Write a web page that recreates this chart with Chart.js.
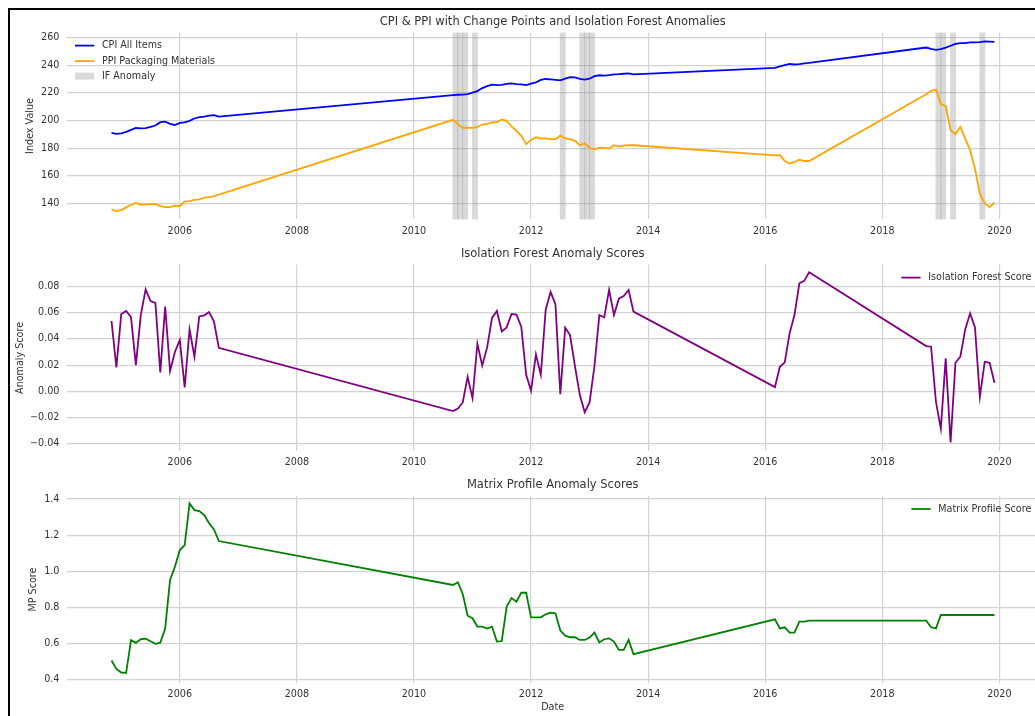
<!DOCTYPE html>
<html>
<head>
<meta charset="utf-8">
<title>CPI & PPI anomalies</title>
<script src="https://cdn.jsdelivr.net/npm/chart.js@4.4.1/dist/chart.umd.min.js"></script>
<style>
  html, body { margin: 0; padding: 0; background: #fff; overflow: hidden; }
  #page { position: relative; width: 1035px; height: 716px; overflow: hidden; background: #fff; }
  #frame { position: absolute; left: 8px; top: 8px; width: 1200px; height: 800px;
           border-left: 2px solid #000; border-top: 2px solid #000; }
  canvas { position: absolute; left: 0; }
</style>
</head>
<body>
<div id="page">
  <div id="frame"></div>
  <canvas id="cpiChart" width="1106" height="240" style="top:0px"></canvas>
  <canvas id="ifChart" width="1106" height="240" style="top:232px"></canvas>
  <canvas id="mpChart" width="1106" height="253" style="top:463px"></canvas>
</div>
<script>
// monthly observations (gaps between the four blocks are joined by straight lines)
const dates = [
  '2004-11', '2004-12',
  '2005-01', '2005-02', '2005-03', '2005-04', '2005-05', '2005-06', '2005-07', '2005-08', '2005-09', '2005-10', '2005-11', '2005-12',
  '2006-01', '2006-02', '2006-03', '2006-04', '2006-05', '2006-06', '2006-07', '2006-08', '2006-09',
  '2010-09', '2010-10', '2010-11', '2010-12',
  '2011-01', '2011-02', '2011-03', '2011-04', '2011-05', '2011-06', '2011-07', '2011-08', '2011-09', '2011-10', '2011-11', '2011-12',
  '2012-01', '2012-02', '2012-03', '2012-04', '2012-05', '2012-06', '2012-07', '2012-08', '2012-09', '2012-10', '2012-11', '2012-12',
  '2013-01', '2013-02', '2013-03', '2013-04', '2013-05', '2013-06', '2013-07', '2013-08', '2013-09', '2013-10',
  '2016-03', '2016-04', '2016-05', '2016-06', '2016-07', '2016-08', '2016-09', '2016-10',
  '2018-10', '2018-11', '2018-12',
  '2019-01', '2019-02', '2019-03', '2019-04', '2019-05', '2019-06', '2019-07', '2019-08', '2019-09', '2019-10', '2019-11', '2019-12'
];

const cpiValues = [
  191.0, 190.3,
  190.7, 191.8, 193.3, 194.6, 194.4, 194.5, 195.4, 196.4, 198.8, 199.2, 197.6, 196.8,
  198.3, 198.7, 199.8, 201.5, 202.5, 202.9, 203.5, 203.9, 202.9,
  218.4, 218.7, 218.8, 219.2,
  220.2, 221.3, 223.5, 224.9, 226.0, 225.7, 225.9, 226.5, 226.9, 226.4, 226.2, 225.7,
  226.7, 227.7, 229.4, 230.1, 229.8, 229.5, 229.1, 230.4, 231.4, 231.3, 230.2, 229.6,
  230.3, 232.2, 232.8, 232.5, 232.9, 233.5, 233.6, 233.9, 234.1, 233.5,
  238.1, 239.3, 240.2, 241.0, 240.6, 240.8, 241.4, 241.7,
  252.9, 252.0, 251.2,
  251.7, 252.8, 254.2, 255.5, 256.1, 256.1, 256.6, 256.6, 256.8, 257.3, 257.2, 257.0
];

const ppiValues = [
  135.6, 134.4,
  135.1, 137.1, 138.8, 140.5, 139.0, 139.3, 139.5, 139.5, 138.0, 137.3, 137.3, 138.3,
  138.0, 141.4, 141.7, 142.6, 142.9, 144.1, 144.6, 145.3, 146.3,
  200.5, 197.3, 194.7, 194.9,
  194.7, 195.4, 197.1, 197.6, 198.6, 198.8, 200.7, 199.8, 195.7, 192.5, 188.9, 182.9,
  186.0, 187.9, 187.0, 187.0, 186.5, 186.5, 189.1, 187.0, 186.5, 185.3, 182.1, 183.6,
  180.2, 179.2, 180.4, 180.2, 179.7, 182.1, 181.2, 181.9, 182.1, 182.1,
  174.8, 175.0, 170.7, 168.8, 170.0, 171.7, 170.7, 170.7,
  219.1, 221.5, 222.5,
  211.9, 210.4, 193.0, 190.1, 195.4, 186.9, 178.5, 165.1, 147.0, 140.2, 137.3, 140.7
];

const ifScores = [
  0.0536, 0.0182,
  0.0589, 0.0612, 0.0564, 0.0200, 0.0581, 0.0777, 0.0688, 0.0673, 0.0144, 0.0645, 0.0155, 0.0300,
  0.0391, 0.0030, 0.0472, 0.0264, 0.0571, 0.0579, 0.0604, 0.0531, 0.0332,
  -0.0150, -0.0130, -0.0084, 0.0111,
  -0.0051, 0.0363, 0.0198, 0.0335, 0.0559, 0.0612, 0.0457, 0.0487, 0.0589, 0.0584, 0.0493, 0.0127,
  0.0005, 0.0282, 0.0127, 0.0620, 0.0757, 0.0663, -0.0021, 0.0485, 0.0429, 0.0193, -0.0028, -0.0158,
  -0.0084, 0.0193, 0.0581, 0.0564, 0.0772, 0.0581, 0.0706, 0.0726, 0.0772, 0.0607,
  0.0033, 0.0188, 0.0221, 0.0442, 0.0581, 0.0823, 0.0841, 0.0907,
  0.0345, 0.0340, -0.0079,
  -0.0283, 0.0251, -0.0389, 0.0218, 0.0264, 0.0472, 0.0594, 0.0487, -0.0041, 0.0226, 0.0218, 0.0066
];

const mpScores = [
  0.507, 0.461,
  0.441, 0.439, 0.620, 0.605, 0.625, 0.628, 0.614, 0.600, 0.606, 0.684, 0.953, 1.026,
  1.118, 1.146, 1.376, 1.339, 1.334, 1.312, 1.266, 1.232, 1.168,
  0.925, 0.940, 0.875, 0.755,
  0.741, 0.695, 0.695, 0.684, 0.695, 0.612, 0.615, 0.805, 0.853, 0.833, 0.882, 0.882,
  0.746, 0.746, 0.746, 0.763, 0.772, 0.768, 0.673, 0.645, 0.636, 0.636, 0.621, 0.621,
  0.634, 0.662, 0.607, 0.625, 0.630, 0.612, 0.566, 0.566, 0.621, 0.542,
  0.735, 0.685, 0.691, 0.662, 0.662, 0.722, 0.722, 0.728,
  0.728, 0.691, 0.685,
  0.759, 0.759, 0.759, 0.759, 0.759, 0.759, 0.759, 0.759, 0.759, 0.759, 0.759, 0.759
];

// months flagged by the isolation forest (grey bands on the top panel)
const ifAnomalyDates = ['2010-09', '2010-10', '2010-11', '2011-01', '2012-07', '2012-11', '2012-12',
                        '2013-01', '2018-12', '2019-01', '2019-03', '2019-09'];

const xTicks = [2006, 2008, 2010, 2012, 2014, 2016, 2018, 2020];
const cpiTicks = [140, 160, 180, 200, 220, 240, 260];
const ifTicks = [-0.04, -0.02, 0, 0.02, 0.04, 0.06, 0.08];
const mpTicks = [0.4, 0.6, 0.8, 1.0, 1.2, 1.4];

const TEXT = '#333333';
const GRID = '#d3d3d3';
const FONT = '"DejaVu Sans", sans-serif';

Chart.defaults.font.family = FONT;
Chart.defaults.color = TEXT;

function toYear(d) {
  const [y, m] = d.split('-').map(Number);
  return y + (m - 1) / 12;
}
const xYears = dates.map(toYear);
const points = vals => vals.map((v, i) => ({ x: xYears[i], y: v }));

// grey spans behind the lines
const anomalyBands = {
  id: 'anomalyBands',
  beforeDatasetsDraw(chart, args, opts) {
    const { ctx, chartArea: a, scales: { x } } = chart;
    ctx.save();
    ctx.fillStyle = opts.color;
    opts.dates.forEach(d => {
      const x0 = x.getPixelForValue(toYear(d) - 0.008);
      const x1 = x.getPixelForValue(toYear(d) + 0.092);
      ctx.fillRect(x0, a.top, x1 - x0, a.bottom - a.top);
    });
    ctx.restore();
  }
};

// matplotlib-like legend without a frame, inside the plot corner
const cornerLegend = {
  id: 'cornerLegend',
  afterDatasetsDraw(chart, args, opts) {
    const { ctx, chartArea: a } = chart;
    const items = chart.data.datasets
      .map(ds => ({ label: ds.label, color: ds.borderColor, kind: 'line' }))
      .concat(opts.extra || []);
    ctx.save();
    ctx.font = '9.6px ' + FONT;
    ctx.textBaseline = 'middle';
    items.forEach((it, i) => {
      const y = a.top + 13 + i * 15.5;
      const textX = opts.corner === 'right'
        ? a.right - 6.7 - ctx.measureText(it.label).width
        : a.left + 34.5;
      const hx = textX - 7.7 - 19.2;
      if (it.kind === 'box') {
        ctx.fillStyle = it.color;
        ctx.fillRect(hx, y - 4, 19.2, 7);
      } else {
        ctx.strokeStyle = it.color;
        ctx.lineWidth = 1.8;
        ctx.beginPath();
        ctx.moveTo(hx, y);
        ctx.lineTo(hx + 19.2, y);
        ctx.stroke();
      }
      ctx.fillStyle = TEXT;
      ctx.fillText(it.label, textX, y);
    });
    ctx.restore();
  }
};

function line(label, color, vals) {
  return {
    label: label,
    data: points(vals),
    borderColor: color,
    backgroundColor: color,
    borderWidth: 1.8,
    pointRadius: 0,
    tension: 0,
    fill: false
  };
}

function makePanel(id, p) {
  return new Chart(document.getElementById(id), {
    type: 'line',
    data: { datasets: p.datasets },
    plugins: p.plugins,
    options: {
      responsive: false,
      animation: false,
      devicePixelRatio: 1,
      // the plot runs past the window edge, as in the cropped original
      layout: { padding: { left: 0, right: 68, top: 0, bottom: 0 } },
      plugins: {
        legend: { display: false },
        tooltip: { enabled: false },
        title: {
          display: true,
          text: p.title,
          fullSize: false,
          color: TEXT,
          font: { size: 11.5, weight: 'normal' },
          padding: { top: p.areaTop - 17.4, bottom: 3.6 }
        },
        anomalyBands: { color: 'rgba(128,128,128,0.3)', dates: ifAnomalyDates },
        cornerLegend: p.legend
      },
      scales: {
        x: {
          type: 'linear',
          min: 2004.08,
          max: 2020.66,
          afterFit: s => { s.height = p.xHeight; },
          afterBuildTicks: s => { s.ticks = xTicks.map(v => ({ value: v })); },
          grid: { color: GRID, lineWidth: 1.2, drawTicks: false },
          border: { display: false },
          ticks: {
            padding: 6,
            autoSkip: false,
            maxRotation: 0,
            font: { size: 9.6 },
            callback: v => String(v)
          },
          title: p.xTitle
            ? { display: true, text: p.xTitle, color: TEXT, font: { size: 9.6 }, padding: { top: 0, bottom: 2.6 } }
            : { display: false }
        },
        y: {
          type: 'linear',
          min: p.yMin,
          max: p.yMax,
          afterFit: s => { s.width = 67.4; },
          afterBuildTicks: s => { s.ticks = p.yTicks.map(v => ({ value: v })); },
          grid: { color: GRID, lineWidth: 1.2, drawTicks: false },
          border: { display: false },
          ticks: { padding: 8, font: { size: 9.6 }, callback: p.yFormat },
          title: {
            display: true,
            text: p.yTitle,
            color: TEXT,
            font: { size: 9.6 },
            padding: { top: p.yTitlePad, bottom: 0 }
          }
        }
      }
    }
  });
}

makePanel('cpiChart', {
  title: 'CPI & PPI with Change Points and Isolation Forest Anomalies',
  datasets: [
    line('CPI All Items', 'blue', cpiValues),
    line('PPI Packaging Materials', 'orange', ppiValues)
  ],
  plugins: [anomalyBands, cornerLegend],
  legend: { corner: 'left', extra: [{ label: 'IF Anomaly', color: 'rgba(128,128,128,0.3)', kind: 'box' }] },
  areaTop: 32.6, xHeight: 20.6,
  yMin: 128.4, yMax: 263.7, yTicks: cpiTicks,
  yFormat: v => String(v),
  yTitle: 'Index Value', yTitlePad: 25
});

makePanel('ifChart', {
  title: 'Isolation Forest Anomaly Scores',
  datasets: [line('Isolation Forest Score', 'purple', ifScores)],
  plugins: [cornerLegend],
  legend: { corner: 'right' },
  areaTop: 32.6, xHeight: 20.8,
  yMin: -0.0455, yMax: 0.0965, yTicks: ifTicks,
  yFormat: v => (v < -1e-9 ? '\u2212' : '') + Math.abs(v).toFixed(2),
  yTitle: 'Anomaly Score', yTitlePad: 14.9
});

makePanel('mpChart', {
  title: 'Matrix Profile Anomaly Scores',
  datasets: [line('Matrix Profile Score', 'green', mpScores)],
  plugins: [cornerLegend],
  legend: { corner: 'right' },
  areaTop: 33, xHeight: 33,
  yMin: 0.383, yMax: 1.417, yTicks: mpTicks,
  yFormat: v => v.toFixed(1),
  yTitle: 'MP Score', yTitlePad: 28.2,
  xTitle: 'Date'
});
</script>
</body>
</html>
